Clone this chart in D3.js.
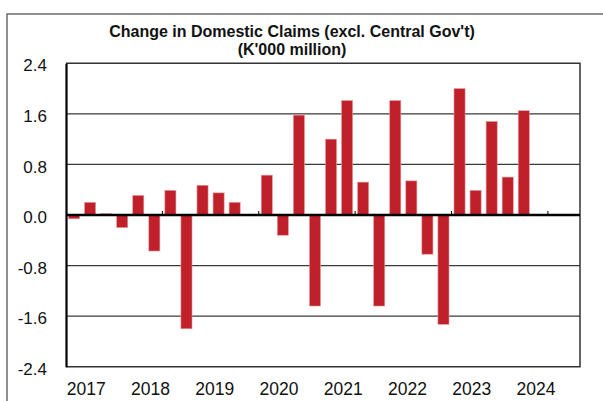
<!DOCTYPE html>
<html>
<head>
<meta charset="utf-8">
<script src="https://cdn.jsdelivr.net/npm/d3@7/dist/d3.min.js"></script>
<style>
  html, body { margin: 0; padding: 0; background: #fff; }
  svg { display: block; font-family: "Liberation Sans", Arial, sans-serif; }
</style>
</head>
<body>
<svg id="chart" width="603" height="401"></svg>
<script>
// Quarterly change in domestic claims, 2017 Q1 – 2024 Q1 (K'000 million)
const years = ["2017", "2018", "2019", "2020", "2021", "2022", "2023", "2024"];
const quarters = ["Q1", "Q2", "Q3", "Q4"];
const values = [
  -0.06, 0.20, 0.02, -0.20,   // 2017
   0.31, -0.57, 0.39, -1.80,  // 2018
   0.47, 0.35, 0.20, 0.01,    // 2019
   0.63, -0.32, 1.58, -1.44,  // 2020
   1.20, 1.81, 0.52, -1.44,   // 2021
   1.81, 0.54, -0.62, -1.73,  // 2022
   2.00, 0.39, 1.48, 0.60,    // 2023
   1.65                       // 2024
];
const yTicks = [-2.4, -1.6, -0.8, 0.0, 0.8, 1.6, 2.4];
const markEvery = 6; // small category marks on the zero line every six quarters
const titleLines = ["Change in Domestic Claims (excl. Central Gov't)", "(K'000 million)"];

const periods = years.flatMap(y => quarters.map(q => `${y} ${q}`));
const data = values.map((v, i) => ({ period: periods[i], value: v }));

const svg = d3.select("#chart");
const plot = { left: 66, right: 580, top: 63.3, bottom: 366.7 };

// outer frame
svg.append("rect")
  .attr("x", 7).attr("y", 14)
  .attr("width", 700).attr("height", 500)
  .attr("fill", "none").attr("stroke", "#6b6b6b").attr("stroke-width", 1.5);

// title
const title = svg.append("text")
  .attr("text-anchor", "middle")
  .attr("font-weight", "bold")
  .attr("font-size", 16)
  .attr("fill", "#111");
titleLines.forEach((t, i) => {
  title.append("tspan").attr("x", 292).attr("y", 37 + i * 17.5).text(t);
});

const x = d3.scaleBand()
  .domain(periods)
  .range([plot.left, plot.right])
  .paddingInner(0.31)
  .paddingOuter(0.155);

const y = d3.scaleLinear()
  .domain([-2.4, 2.4])
  .range([plot.bottom, plot.top]);

// horizontal gridlines
svg.append("g")
  .selectAll("line")
  .data(yTicks.filter(t => t !== 0 && Math.abs(t) !== 2.4))
  .join("line")
  .attr("x1", plot.left).attr("x2", plot.right)
  .attr("y1", d => y(d)).attr("y2", d => y(d))
  .attr("stroke", "#3a3a3a").attr("stroke-width", 1.3);

// plot border (top, right, bottom)
svg.append("path")
  .attr("d", `M${plot.left},${y(2.4)}H${plot.right}V${y(-2.4)}H${plot.left}`)
  .attr("fill", "none").attr("stroke", "#333").attr("stroke-width", 1.5);

// bars
svg.append("g")
  .selectAll("rect")
  .data(data)
  .join("rect")
  .attr("x", d => x(d.period))
  .attr("width", x.bandwidth())
  .attr("y", d => y(Math.max(0, d.value)))
  .attr("height", d => Math.abs(y(d.value) - y(0)))
  .attr("fill", "#c0202a")
  .attr("stroke", "#e49aa0")
  .attr("stroke-width", 0.6);

// y axis
const yAxis = svg.append("g")
  .attr("transform", `translate(${plot.left},0)`)
  .call(d3.axisLeft(y).tickValues(yTicks).tickFormat(d3.format(".1f")).tickSize(0).tickPadding(19));
yAxis.select(".domain").attr("stroke", "#000").attr("stroke-width", 2.2);
yAxis.selectAll("text")
  .attr("font-size", 17)
  .attr("fill", "#111")
  .attr("font-family", "'Liberation Sans', Arial, sans-serif")
  .attr("dy", "0.45em")
  .text(d => d3.format(".1f")(d).replace("−", "-"));

// zero line
svg.append("line")
  .attr("x1", plot.left).attr("x2", plot.right)
  .attr("y1", y(0)).attr("y2", y(0))
  .attr("stroke", "#000").attr("stroke-width", 2.4);

// small category marks on the zero line
const markPeriods = periods.filter((p, i) => i > 0 && i % markEvery === 0);
const step = x.step();
svg.append("g")
  .selectAll("line")
  .data(markPeriods)
  .join("line")
  .attr("x1", d => x(d) - step * x.paddingInner() / 2)
  .attr("x2", d => x(d) - step * x.paddingInner() / 2)
  .attr("y1", y(0)).attr("y2", y(0) - 4)
  .attr("stroke", "#000").attr("stroke-width", 1);

// year labels, left-aligned at each year's first quarter slot
svg.append("g")
  .selectAll("text")
  .data(years)
  .join("text")
  .attr("x", d => x(`${d} Q1`) - step * x.paddingOuter() + 0.8)
  .attr("y", 395)
  .attr("font-size", 17.5)
  .attr("fill", "#111")
  .text(d => d);
</script>
</body>
</html>
